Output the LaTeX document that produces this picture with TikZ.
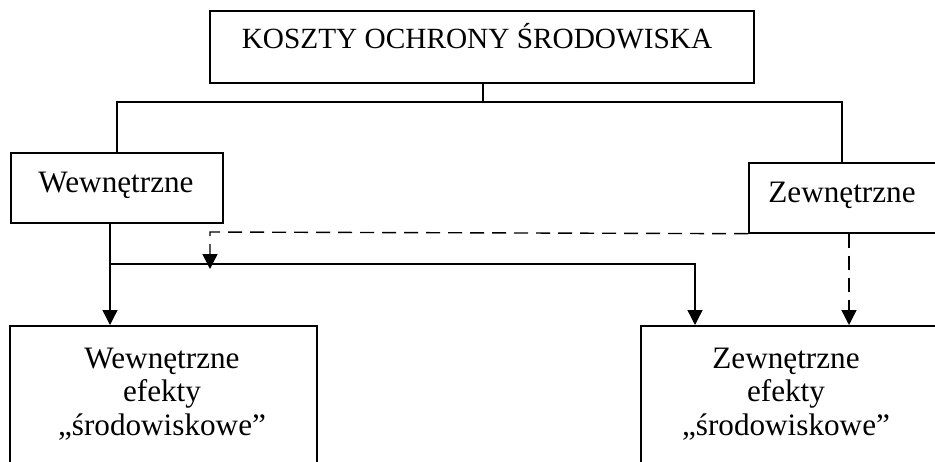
\documentclass[tikz,border=0pt]{standalone}
\usepackage{fontspec}
\setmainfont{Liberation Serif}
\usetikzlibrary{arrows.meta}
\begin{document}
\begin{tikzpicture}[x=1pt,y=-1pt,
  box/.style={draw, line width=1.7pt, inner sep=0pt, anchor=north west},
  lbl/.style={font=\fontsize{31.2}{33.5}\selectfont, inner sep=0pt, align=center, anchor=base},
  title/.style={lbl, font=\fontsize{29.3}{33.5}\selectfont},
  conn/.style={line width=1.4pt},
  arr/.style={conn, -{Triangle[width=15pt,length=15pt]}},
  dsh/.style={dash pattern=on 14pt off 8pt}]
\useasboundingbox (0,0) rectangle (935,461);
\clip (0,0) rectangle (935,461);
% boxes
\node[box, minimum width=544pt, minimum height=72pt] (top) at (209,10) {};
\node[box, minimum width=212pt, minimum height=70pt] (wew) at (10,152) {};
\node[box, minimum width=190pt, minimum height=70pt] (zew) at (748,162) {};
\node[box, minimum width=307pt, minimum height=160pt] (wl) at (9,325) {};
\node[box, minimum width=300pt, minimum height=160pt] (zl) at (640,325) {};
% texts
\node[title] (toptxt) at (477,48) {KOSZTY OCHRONY ŚRODOWISKA};
\node[lbl] (wewtxt) at (116,192) {Wewnętrzne};
\node[lbl] (zewtxt) at (842,202) {Zewnętrzne};
\node[lbl] (wltxt) at (162,435) {Wewnętrzne\\efekty\\„środowiskowe”};
\node[lbl] (zltxt) at (786,435) {Zewnętrzne\\efekty\\„środowiskowe”};
% junctions
\coordinate (j) at (483,102);
\coordinate (b) at (110,264);
\coordinate (d) at (210,232);
\coordinate (de) at (210,269);
% tree lines
\draw[conn] (top.south -| j) -- (j);
\draw[conn] (wew.north -| 117,0) |- (j) -| (zew.north -| 842,0);
% solid arrows
\draw[arr] (wew.south -| b) -- (wl.north -| b);
\draw[arr] (b) -| (wl.north -| 695,0);
% dashed arrows
\draw[arr, dsh] (zew.south west) -- (d) -- (de);
\draw[arr, dsh] (zew.south -| 849,0) -- (zl.north -| 849,0);
\end{tikzpicture}
\end{document}
